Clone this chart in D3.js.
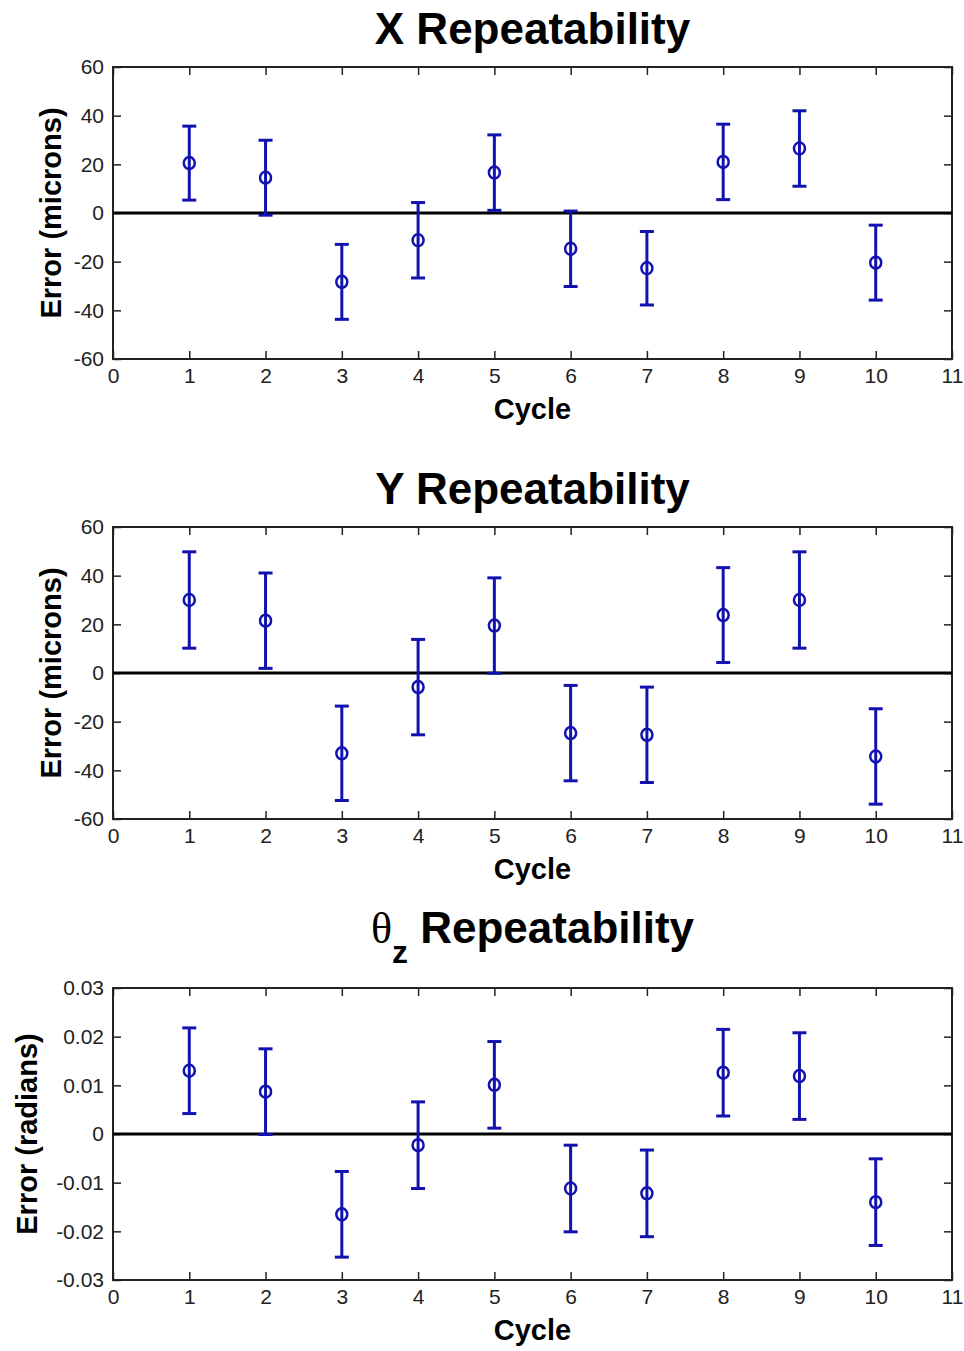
<!DOCTYPE html>
<html>
<head>
<meta charset="utf-8">
<script src="https://cdn.jsdelivr.net/npm/d3@7"></script>
<style>
  body { margin: 0; background: #fff; }
  svg { display: block; font-family: "Liberation Sans", Arial, sans-serif; }
  .tick text { font-size: 21px; fill: #222; }
  .tick line { stroke: #222; stroke-width: 1.5; }
  .title { font-size: 44px; font-weight: bold; }
  .axis-label { font-size: 29px; font-weight: bold; }
</style>
</head>
<body>
<svg id="chart" width="964" height="1351"></svg>
<script>
const cycles = [1, 2, 3, 4, 5, 6, 7, 8, 9, 10];
const cycleTicks = [0, 1, 2, 3, 4, 5, 6, 7, 8, 9, 10, 11];

// X repeatability (microns)
const xMean = [20.5, 14.5, -28.3, -11.2, 16.6, -14.7, -22.7, 21.0, 26.5, -20.4];
const xErr = [15.2, 15.4, 15.4, 15.5, 15.5, 15.5, 15.1, 15.5, 15.5, 15.4];

// Y repeatability (microns)
const yMean = [30.0, 21.5, -33.0, -5.8, 19.5, -24.7, -25.4, 23.8, 30.0, -34.3];
const yErr = [19.8, 19.6, 19.4, 19.6, 19.6, 19.6, 19.6, 19.5, 19.8, 19.6];

// theta_z repeatability (radians)
const thMean = [0.0130, 0.0087, -0.0165, -0.0023, 0.0101, -0.0112, -0.0122, 0.0126, 0.0119, -0.0140];
const thErr = [0.0088, 0.0088, 0.0088, 0.0089, 0.0089, 0.0089, 0.0089, 0.0089, 0.0089, 0.0089];

const micronTicks = [-60, -40, -20, 0, 20, 40, 60];
const radianTicks = [-0.03, -0.02, -0.01, 0, 0.01, 0.02, 0.03];

const svg = d3.select("#chart");
const left = 113, right = 952, plotH = 292;
const blue = "#1212b0";

const panels = [
  { top: 67, mean: xMean, err: xErr, ticks: micronTicks, title: "X Repeatability", titleY: 44, ylabel: "Error (microns)", labelX: 61 },
  { top: 527, mean: yMean, err: yErr, ticks: micronTicks, title: "Y Repeatability", titleY: 504, ylabel: "Error (microns)", labelX: 61 },
  { top: 988, mean: thMean, err: thErr, ticks: radianTicks, title: null, titleY: 943, ylabel: "Error (radians)", labelX: 37 }
];

const fmt = (d) => String(+d.toFixed(2));

panels.forEach((p) => {
  const bottom = p.top + plotH;
  const x = d3.scaleLinear().domain([0, 11]).range([left, right]);
  const y = d3.scaleLinear()
    .domain([d3.min(p.ticks), d3.max(p.ticks)])
    .range([bottom, p.top]);

  const g = svg.append("g");

  // axes, ticks pointing inward on all four sides
  g.append("g")
    .attr("transform", `translate(0,${bottom})`)
    .call(d3.axisBottom(x).tickValues(cycleTicks).tickSizeInner(-8).tickSizeOuter(0).tickPadding(9).tickFormat(fmt))
    .call((a) => a.select(".domain").remove());
  g.append("g")
    .attr("transform", `translate(0,${p.top})`)
    .call(d3.axisTop(x).tickValues(cycleTicks).tickSizeInner(-8).tickSizeOuter(0).tickFormat(""))
    .call((a) => a.select(".domain").remove());
  g.append("g")
    .attr("transform", `translate(${left},0)`)
    .call(d3.axisLeft(y).tickValues(p.ticks).tickSizeInner(-8).tickSizeOuter(0).tickPadding(9).tickFormat(fmt))
    .call((a) => a.select(".domain").remove());
  g.append("g")
    .attr("transform", `translate(${right},0)`)
    .call(d3.axisRight(y).tickValues(p.ticks).tickSizeInner(-8).tickSizeOuter(0).tickFormat(""))
    .call((a) => a.select(".domain").remove());
  g.selectAll(".tick text").attr("font-family", null).attr("font-size", null);

  g.append("rect")
    .attr("x", left)
    .attr("y", p.top)
    .attr("width", right - left)
    .attr("height", plotH)
    .attr("fill", "none")
    .attr("stroke", "#222")
    .attr("stroke-width", 2);

  // zero line
  g.append("line")
    .attr("x1", x(0)).attr("x2", x(11))
    .attr("y1", y(0)).attr("y2", y(0))
    .attr("stroke", "#000")
    .attr("stroke-width", 3);

  // error bars
  const pts = cycles.map((c, i) => ({ c, m: p.mean[i], e: p.err[i] }));
  const bars = g.append("g").selectAll("g").data(pts).join("g");
  bars.append("line")
    .attr("x1", (d) => x(d.c)).attr("x2", (d) => x(d.c))
    .attr("y1", (d) => y(d.m - d.e)).attr("y2", (d) => y(d.m + d.e))
    .attr("stroke", blue).attr("stroke-width", 3);
  [-1, 1].forEach((s) => {
    bars.append("line")
      .attr("x1", (d) => x(d.c) - 7).attr("x2", (d) => x(d.c) + 7)
      .attr("y1", (d) => y(d.m + s * d.e)).attr("y2", (d) => y(d.m + s * d.e))
      .attr("stroke", blue).attr("stroke-width", 3);
  });
  bars.append("ellipse")
    .attr("cx", (d) => x(d.c))
    .attr("cy", (d) => y(d.m))
    .attr("rx", 5.5).attr("ry", 6)
    .attr("fill", "none")
    .attr("stroke", blue)
    .attr("stroke-width", 2.5);

  // title
  const cx = (left + right) / 2;
  if (p.title) {
    svg.append("text")
      .attr("class", "title")
      .attr("x", cx)
      .attr("y", p.titleY)
      .attr("text-anchor", "middle")
      .text(p.title);
  } else {
    const t = svg.append("text")
      .attr("class", "title")
      .attr("x", cx)
      .attr("y", p.titleY)
      .attr("text-anchor", "middle");
    t.append("tspan").attr("font-weight", "normal").attr("font-family", "'Liberation Serif', serif").text("θ");
    t.append("tspan").attr("font-size", 32).attr("dy", 20).text("z");
    t.append("tspan").attr("dy", -20).text(" Repeatability");
  }

  svg.append("text")
    .attr("class", "axis-label")
    .attr("x", cx)
    .attr("y", bottom + 60)
    .attr("text-anchor", "middle")
    .text("Cycle");

  svg.append("text")
    .attr("class", "axis-label")
    .attr("transform", "rotate(-90)")
    .attr("x", -(p.top + plotH / 2))
    .attr("y", p.labelX)
    .attr("text-anchor", "middle")
    .text(p.ylabel);
});
</script>
</body>
</html>
